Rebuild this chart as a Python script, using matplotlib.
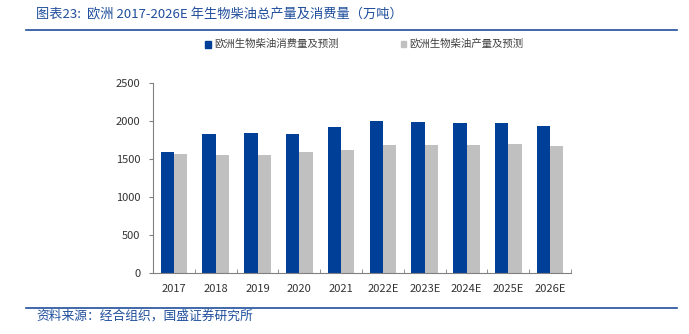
import numpy as np
import matplotlib.pyplot as plt
from matplotlib.lines import Line2D
from matplotlib.patches import Rectangle

plt.rcParams['font.family'] = ['Noto Sans CJK SC', 'DejaVu Sans']

years = ['2017', '2018', '2019', '2020', '2021', '2022E', '2023E', '2024E', '2025E', '2026E']
consumption = [1590, 1825, 1840, 1825, 1915, 2005, 1990, 1980, 1978, 1935]
production = [1570, 1553, 1553, 1596, 1614, 1690, 1690, 1690, 1697, 1672]

blue = '#003f98'
gray = '#c0c0c0'
title_blue = '#1f4e9c'

fig = plt.figure(figsize=(6.89, 3.34), dpi=100)
ax = fig.add_axes([153 / 689, 61 / 334, 418 / 689, 190 / 334])

x = np.arange(len(years))
w = 0.32
ax.bar(x - w / 2, consumption, width=w, color=blue, linewidth=0)
ax.bar(x + w / 2, production, width=w, color=gray, linewidth=0)

ax.set_xlim(-0.5, len(years) - 0.5)
ax.set_ylim(0, 2500)
ax.set_yticks(range(0, 2501, 500))
ax.set_xticks(x)
ax.set_xticklabels(years)
ax.set_xticks(np.arange(-0.5, len(years)), minor=True)
ax.tick_params(axis='x', which='major', length=0, pad=8, labelsize=8, labelcolor='#333333')
ax.tick_params(axis='x', which='minor', length=3, color='#808080', direction='in')
ax.tick_params(axis='y', length=3, color='#808080', labelsize=8, pad=6, labelcolor='#333333')
for s in ['top', 'right']:
    ax.spines[s].set_visible(False)
for s in ['left', 'bottom']:
    ax.spines[s].set_color('#808080')
    ax.spines[s].set_linewidth(0.8)

# title and rules
fig.text(36 / 689, 1 - 15 / 334, '图表23:  欧洲 2017-2026E 年生物柴油总产量及消费量（万吨）',
         fontsize=9.5, color=title_blue, style='italic', va='center', ha='left')
fig.add_artist(Line2D([26 / 689, 677 / 689], [1 - 30 / 334] * 2, color=title_blue, lw=1.2))
fig.add_artist(Line2D([26 / 689, 677 / 689], [1 - 308 / 334] * 2, color=title_blue, lw=1.2))
fig.text(36 / 689, 1 - 316 / 334, '资料来源：经合组织，国盛证券研究所',
         fontsize=9.2, color=title_blue, style='italic', va='center', ha='left')

# legend
ly = 1 - 44 / 334
fig.add_artist(Rectangle((205 / 689, ly - 3.5 / 334), 6 / 689, 7 / 334, color=blue, transform=fig.transFigure))
fig.text(214 / 689, ly, '欧洲生物柴油消费量及预测', fontsize=7.5, color='#404040', va='center')
fig.add_artist(Rectangle((401 / 689, ly - 3 / 334), 5 / 689, 6 / 334, color=gray, transform=fig.transFigure))
fig.text(409 / 689, ly, '欧洲生物柴油产量及预测', fontsize=7.5, color='#404040', va='center')

fig.savefig('out.png', dpi=100)
